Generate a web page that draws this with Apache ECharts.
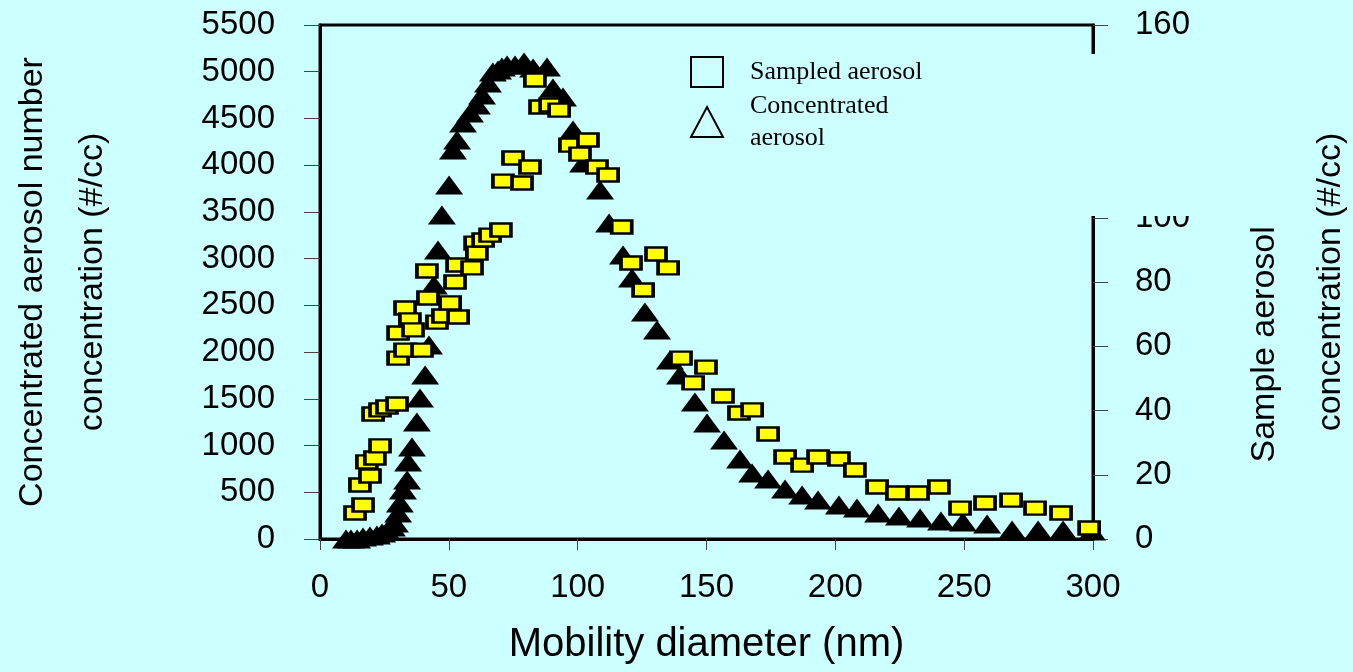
<!DOCTYPE html>
<html>
<head>
<meta charset="utf-8">
<script src="https://cdn.jsdelivr.net/npm/echarts@6/dist/echarts.min.js"></script>
<style>
  html, body { margin: 0; padding: 0; background: #CCFFFF; }
  #chart { width: 1353px; height: 672px; }
</style>
</head>
<body>
<div id="chart"></div>
<script>
// ---- Data ----
// Concentrated aerosol (triangles, left axis, #/cc)
const concDiameter = [10.1, 12.0, 14.4, 16.7, 19.4, 22.1, 24.1, 26.0, 27.9, 29.1, 30.3, 31.0, 32.2, 33.8, 34.2, 35.7, 37.6, 38.8, 40.8, 42.3, 44.2, 45.8, 47.3, 50.1, 51.6, 53.2, 55.5, 58.2, 60.9, 62.9, 65.2, 67.1, 69.1, 70.6, 72.6, 75.7, 79.2, 82.7, 88.1, 90.4, 94.3, 98.2, 102.1, 108.7, 112.2, 117.6, 121.1, 126.1, 130.8, 135.8, 139.7, 145.5, 150.2, 156.8, 163.0, 167.7, 173.9, 180.5, 187.1, 193.3, 201.4, 208.4, 216.6, 224.7, 232.9, 241.0, 249.5, 258.9, 268.6, 278.7, 288.4, 299.6];
const concValue = [0, 0, 0, 21, 32, 43, 64, 86, 128, 171, 278, 385, 524, 631, 824, 984, 1252, 1509, 1755, 2076, 2718, 3092, 3467, 3788, 4162, 4269, 4451, 4558, 4644, 4751, 4879, 4997, 5018, 5050, 5072, 5072, 5104, 5040, 5050, 4826, 4729, 4376, 4023, 3734, 3381, 3039, 2793, 2429, 2236, 1915, 1755, 1466, 1241, 1059, 856, 706, 642, 535, 471, 417, 364, 332, 278, 246, 225, 193, 182, 161, 96, 96, 96, 86];

// Sampled aerosol (squares, right axis, #/cc)
const sampDiameter = [13.6, 15.5, 16.7, 18.2, 19.4, 20.6, 21.3, 23.3, 23.3, 26.0, 29.9, 30.3, 30.3, 33.0, 33.0, 34.9, 36.1, 39.6, 41.5, 41.9, 45.4, 47.7, 50.5, 52.4, 53.2, 53.6, 59.0, 60.2, 60.9, 63.3, 66.0, 70.2, 71.0, 74.9, 78.4, 81.5, 83.4, 85.4, 89.3, 92.8, 97.0, 100.9, 104.0, 107.5, 111.8, 117.1, 120.7, 125.4, 130.4, 135.1, 140.1, 144.8, 149.8, 156.4, 162.6, 167.7, 173.9, 180.5, 187.1, 193.3, 201.4, 207.6, 216.2, 223.9, 232.1, 240.2, 248.4, 258.1, 268.2, 277.5, 287.6, 298.5];
const sampValue = [8.1, 16.8, 10.6, 24.0, 19.6, 38.9, 25.2, 29.0, 40.2, 41.1, 42.0, 56.3, 64.1, 58.8, 71.9, 68.2, 65.1, 58.8, 83.4, 75.0, 67.5, 69.4, 73.5, 80.0, 85.3, 69.1, 84.4, 92.1, 89.0, 93.1, 94.6, 96.2, 111.4, 118.6, 110.8, 115.8, 142.9, 134.5, 135.1, 133.5, 122.6, 119.8, 124.2, 115.8, 113.3, 97.1, 85.9, 77.5, 88.7, 84.4, 56.3, 48.6, 53.5, 44.5, 39.2, 40.2, 32.7, 25.5, 23.0, 25.5, 24.9, 21.5, 16.2, 14.3, 14.3, 16.2, 9.6, 11.2, 12.1, 9.6, 8.1, 3.4];

// Axis settings / labels
const xRange = [0, 300, 50];
const yLeftRange = [0, 5500, 500];
const yRightRange = [0, 160, 20];
const xTitle = 'Mobility diameter (nm)';
const yLeftTitle = 'Concentrated aerosol number\nconcentration (#/cc)';
const yRightTitle = 'Sample aerosol number\nconcentration (#/cc)';
const seriesNames = ['Sampled aerosol', 'Concentrated aerosol'];

const SANS = "'Liberation Sans', Arial, sans-serif";
const SERIF = "'Liberation Serif', 'Times New Roman', serif";
const plain = v => String(v);

const chart = echarts.init(document.getElementById('chart'), null, { renderer: 'canvas' });

const option = {
  backgroundColor: '#CCFFFF',
  animation: false,
  grid: {
    left: 320, top: 25, width: 773, height: 514,
    containLabel: false, outerBoundsMode: 'none',
    show: true, borderColor: '#000', borderWidth: 3, backgroundColor: 'transparent'
  },
  xAxis: {
    type: 'value', min: xRange[0], max: xRange[1], interval: xRange[2],
    axisLine: { show: true, onZero: false, lineStyle: { color: '#000', width: 3 } },
    axisTick: { show: true, length: 11, lineStyle: { color: '#444', width: 1 } },
    splitLine: { show: false },
    axisLabel: { fontSize: 33, color: '#000', fontFamily: SANS, margin: 32, formatter: plain },
    name: xTitle, nameLocation: 'middle', nameGap: 86, nameMoveOverlap: false,
    nameTextStyle: { fontSize: 40, color: '#000', fontFamily: SANS }
  },
  yAxis: [
    {
      type: 'value', position: 'left', min: yLeftRange[0], max: yLeftRange[1], interval: yLeftRange[2],
      axisLine: { show: true, lineStyle: { color: '#000', width: 3 } },
      axisTick: { show: true, length: 16, lineStyle: { color: '#444', width: 1 } },
      splitLine: { show: false },
      axisLabel: { fontSize: 33, color: '#000', fontFamily: SANS, margin: 45, formatter: plain },
      name: yLeftTitle, nameLocation: 'middle', nameRotate: 90, nameGap: 197, nameMoveOverlap: false,
      nameTextStyle: { fontSize: 34, color: '#000', fontFamily: SANS, lineHeight: 60 }
    },
    {
      type: 'value', position: 'right', min: yRightRange[0], max: yRightRange[1], interval: yRightRange[2],
      axisLine: { show: true, lineStyle: { color: '#000', width: 3 } },
      axisTick: { show: true, length: 15, lineStyle: { color: '#444', width: 1 } },
      splitLine: { show: false },
      axisLabel: { fontSize: 33, color: '#000', fontFamily: SANS, margin: 42, formatter: plain },
      name: yRightTitle, nameLocation: 'middle', nameRotate: 90, nameGap: 139, nameMoveOverlap: false,
      nameTextStyle: { fontSize: 34, color: '#000', fontFamily: SANS, lineHeight: 66 }
    }
  ],
  legend: {
    orient: 'vertical', left: 690, top: 56, padding: 0, itemGap: 2,
    itemWidth: 32, itemHeight: 30, z: 20, selectedMode: false,
    data: [
      { name: seriesNames[0], icon: 'rect' },
      { name: seriesNames[1], icon: 'triangle' }
    ],
    itemStyle: { color: 'transparent', borderColor: '#000', borderWidth: 2, opacity: 1 },
    textStyle: { fontFamily: SERIF, fontSize: 26, color: '#000', lineHeight: 32, padding: [0, 0, 0, 22] },
    formatter: function (n) { return n === 'Concentrated aerosol' ? 'Concentrated\naerosol' : n; }
  },
  graphic: [
    {
      type: 'rect', z: 10,
      shape: { x: 680, y: 54, width: 618, height: 162 },
      style: { fill: '#CCFFFF' }
    }
  ],
  series: [
    {
      name: seriesNames[1], type: 'scatter', yAxisIndex: 0,
      symbol: 'triangle', symbolSize: [28, 19],
      itemStyle: { color: '#000', opacity: 1 },
      data: concDiameter.map((d, i) => [d, concValue[i]])
    },
    {
      name: seriesNames[0], type: 'scatter', yAxisIndex: 1,
      symbol: 'rect', symbolSize: [20, 13],
      itemStyle: { color: '#FFFF00', borderColor: '#000', borderWidth: 3, opacity: 1 },
      data: sampDiameter.map((d, i) => [d, sampValue[i]])
    }
  ]
};
chart.setOption(option);
</script>
</body>
</html>
